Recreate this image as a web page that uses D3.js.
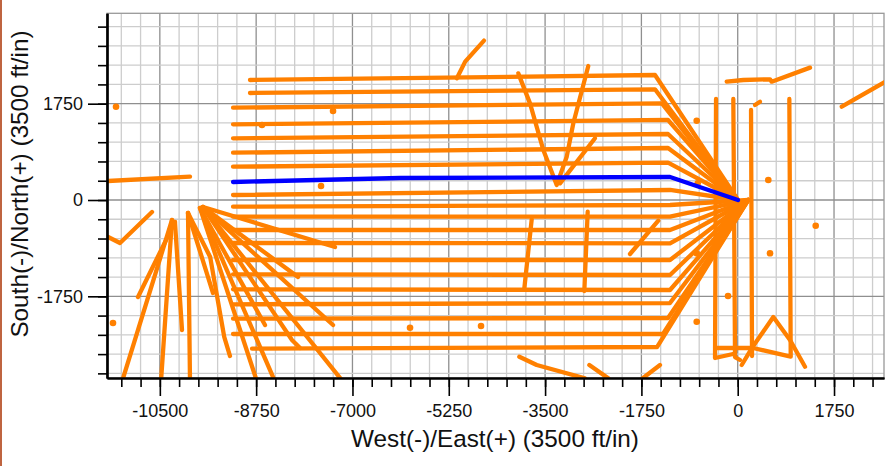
<!DOCTYPE html>
<html>
<head>
<meta charset="utf-8">
<script src="https://cdn.jsdelivr.net/npm/d3@7"></script>
<style>
	body { margin: 0; background: #fff; }
	.axis text { font-family: "Liberation Sans", Arial, sans-serif; font-size: 18px; fill: #111; }
	.title { font-family: "Liberation Sans", Arial, sans-serif; font-size: 24.3px; fill: #111; }
</style>
</head>
<body>
<div class="chart"></div>
<script>
const width = 890;
const height = 466;
const plot = {left: 107, right: 884, top: 13.3, bottom: 378};

// axis extents (ft) and ticks
const xDomain = [-11460, 2658];
const yDomain = [-3234, 3392];
const xMajor = [-10500, -8750, -7000, -5250, -3500, -1750, 0, 1750];
const yMajor = [-1750, 0, 1750];
const xMinor = d3.range(-11200, 2451, 350);
const yMinor = d3.range(-3150, 3151, 350);

// laterals: west end, bend, pad
const laterals = [
	[[-8862, 2180], [-1503, 2271], [5, 0]],
	[[-8862, 1944], [-1503, 2011], [5, 0]],
	[[-9170, 1677], [-1381, 1757], [5, 0]],
	[[-9170, 1375], [-1266, 1454], [5, 0]],
	[[-9170, 1121], [-1266, 1199], [5, 0]],
	[[-9170, 859], [-1266, 945], [5, 0]],
	[[-9170, 605], [-1266, 678], [5, 0]],
	[[-9170, 91], [-1230, 182], [5, 0]],
	[[-9170, -122], [-1230, -91], [190, 0]],
	[[-9170, -303], [-1230, -303], [190, 0]],
	[[-9170, -545], [-1230, -545], [190, 0]],
	[[-9170, -781], [-1230, -787], [190, 0]],
	[[-9170, -1090], [-1230, -1090], [190, 0]],
	[[-9170, -1350], [-1230, -1363], [190, 0]],
	[[-9170, -1623], [-1230, -1635], [190, 0]],
	[[-9170, -1895], [-1230, -1872], [190, 0]],
	[[-9170, -2157], [-1266, -2144], [190, 0]],
	[[-9170, -2435], [-1357, -2435], [190, 0]],
	[[-8825, -2702], [-1466, -2671], [190, 0]]
];

const subjectWell = [[-9170, 327], [-6140, 400], [-1230, 418], [5, 0]];

// fan of wells from the western pad
const fanWells = [
	[[-10279, -363], [-11187, -3300]],
	[[-10225, -400], [-10897, -1762]],
	[[-10279, -363], [-10479, -3300]],
	[[-10225, -400], [-10097, -2362]],
	[[-9988, -236], [-9952, -3300]],
	[[-9988, -236], [-9534, -1690]],
	[[-9988, -236], [-9585, -1036], [-9330, -2489], [-9225, -2835]],
	[[-9770, -145], [-8734, -3300]],
	[[-9770, -145], [-8589, -2271]],
	[[-9770, -145], [-8407, -3300]],
	[[-9716, -127], [-8099, -2544], [-7953, -2689]],
	[[-9716, -127], [-7989, -1399]],
	[[-9716, -127], [-7353, -2271]],
	[[-9716, -127], [-7172, -3300]],
	[[-9716, -127], [-7317, -854]]
];

const otherWells = [
	[[-11440, -672], [-11224, -781], [-10642, -218]],
	[[-11440, 345], [-9952, 423]],
	[[-5103, 2211], [-4952, 2514], [-4610, 2896]],
	[[-3987, 2301], [-3774, 1756], [-3532, 908], [-3289, 273], [-3107, 787], [-2987, 1394], [-2715, 2435]],
	[[-3229, 303], [-2593, 1121]],
	[[-3743, -351], [-3877, -1604]],
	[[-2726, -213], [-2787, -1653]],
	[[-1957, -981], [-1443, -376]],
	[[-3968, -2847], [-3652, -2998], [-2775, -3240]],
	[[-2696, -2998], [-2351, -3240]],
	[[-1744, -3252], [-1412, -2998]],
	[[-200, 2150], [102, 2180], [587, 2193], [617, 2150], [1314, 2405]],
	[[1890, 1695], [2700, 2160]],
	[[-394, 1835], [-412, -2871], [-85, -2798]],
	[[-80, 1835], [-67, 0], [-49, -2853], [42, -2907]],
	[[242, 1635], [260, -2835]],
	[[938, 1835], [963, -2847], [278, -2689], [-412, -2689]],
	[[73, -2998], [254, -2695], [647, -2126], [950, -2544], [1223, -3029]],
	[[314, 1726], [405, 1786]]
];

const spots = [
	[-11296, 1695], [-11351, -2235], [-8644, 1363], [-7353, 1617], [-7571, 254],
	[-5954, -2320], [-4664, -2289], [-745, 1441], [-727, 303], [-745, -968],
	[-745, -2211], [556, 363], [1417, -467], [587, -968], [-176, -1745]
];

const x = d3.scaleLinear().domain(xDomain).range([plot.left, plot.right]);
const y = d3.scaleLinear().domain(yDomain).range([plot.bottom, plot.top]);

const svg = d3.select('.chart').append('svg')
	.attr('width', width)
	.attr('height', height);

svg.append('rect')
	.attr('x', 0).attr('y', 0)
	.attr('width', 2).attr('height', height)
	.attr('fill', '#bf6440');

// grid
const grid = svg.append('g');
grid.selectAll('.vgrid')
	.data(xMinor)
	.enter()
	.append('line')
	.attr('x1', d => x(d)).attr('x2', d => x(d))
	.attr('y1', plot.top).attr('y2', plot.bottom)
	.attr('stroke', d => d % 1750 === 0 ? '#8f8f8f' : '#cdcdcd')
	.attr('stroke-width', 1.3);

grid.selectAll('.hgrid')
	.data(yMinor)
	.enter()
	.append('line')
	.attr('x1', plot.left).attr('x2', plot.right)
	.attr('y1', d => y(d)).attr('y2', d => y(d))
	.attr('stroke', d => d % 1750 === 0 ? '#8f8f8f' : '#cdcdcd')
	.attr('stroke-width', 1.3);

grid.append('rect')
	.attr('x', plot.left).attr('y', plot.top)
	.attr('width', plot.right - plot.left)
	.attr('height', plot.bottom - plot.top)
	.attr('fill', 'none')
	.attr('stroke', '#999')
	.attr('stroke-width', 1.3);

svg.append('clipPath')
	.attr('id', 'clip')
	.append('rect')
	.attr('x', plot.left).attr('y', plot.top)
	.attr('width', plot.right - plot.left)
	.attr('height', plot.bottom - plot.top);

const line = d3.line()
	.x(d => x(d[0]))
	.y(d => y(d[1]));

const wells = svg.append('g').attr('clip-path', 'url(#clip)');

wells.selectAll('.well')
	.data(laterals.concat(fanWells, otherWells))
	.enter()
	.append('path')
	.attr('class', 'well')
	.attr('d', line)
	.attr('fill', 'none')
	.attr('stroke', '#ff8000')
	.attr('stroke-width', 4.3)
	.attr('stroke-linecap', 'round')
	.attr('stroke-linejoin', 'round');

wells.selectAll('.spot')
	.data(spots)
	.enter()
	.append('circle')
	.attr('cx', d => x(d[0]))
	.attr('cy', d => y(d[1]))
	.attr('r', 3.3)
	.attr('fill', '#ff8000');

wells.append('path')
	.datum(subjectWell)
	.attr('d', line)
	.attr('fill', 'none')
	.attr('stroke', '#0000ff')
	.attr('stroke-width', 4.3)
	.attr('stroke-linecap', 'round')
	.attr('stroke-linejoin', 'round');

// axes
const fmt = d => String(d);

svg.append('g')
	.attr('class', 'axis')
	.attr('transform', `translate(0, ${plot.bottom})`)
	.call(d3.axisBottom(x).tickValues(xMinor).tickSize(9).tickSizeOuter(0).tickFormat(''));

svg.append('g')
	.attr('class', 'axis x-axis')
	.attr('transform', `translate(0, ${plot.bottom})`)
	.call(d3.axisBottom(x).tickValues(xMajor).tickSize(18).tickSizeOuter(0).tickPadding(8).tickFormat(fmt));

svg.append('g')
	.attr('class', 'axis')
	.attr('transform', `translate(${plot.left}, 0)`)
	.call(d3.axisLeft(y).tickValues(yMinor).tickSize(9).tickSizeOuter(0).tickFormat(''));

svg.append('g')
	.attr('class', 'axis y-axis')
	.attr('transform', `translate(${plot.left}, 0)`)
	.call(d3.axisLeft(y).tickValues(yMajor).tickSize(19).tickSizeOuter(0).tickPadding(5).tickFormat(fmt));

svg.selectAll('.axis .tick line').attr('stroke', '#000').attr('stroke-width', 1.6);
svg.selectAll('.axis .domain').attr('stroke', '#000').attr('stroke-width', 2.2);

svg.append('text')
	.attr('class', 'title')
	.attr('x', 495)
	.attr('y', 447)
	.attr('text-anchor', 'middle')
	.text('West(-)/East(+) (3500 ft/in)');

svg.append('text')
	.attr('class', 'title')
	.attr('transform', 'translate(28, 184) rotate(-90)')
	.attr('text-anchor', 'middle')
	.text('South(-)/North(+) (3500 ft/in)');
</script>
</body>
</html>
